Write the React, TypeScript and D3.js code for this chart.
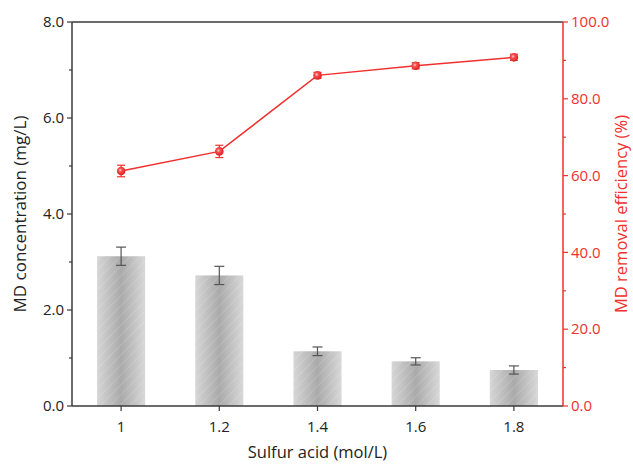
import React from "react";
import * as d3 from "d3";

const categories = [1, 1.2, 1.4, 1.6, 1.8];
const xTickLabels = ["1", "1.2", "1.4", "1.6", "1.8"];
const concentration = [3.12, 2.72, 1.14, 0.93, 0.75];
const concentrationErr = [0.19, 0.19, 0.09, 0.075, 0.085];
const efficiency = [61.2, 66.3, 86.1, 88.6, 90.8];
const efficiencyErr = [1.5, 1.6, 0.8, 0.8, 0.8];
const leftTicks = [0, 2, 4, 6, 8];
const rightTicks = [0, 20, 40, 60, 80, 100];

const W = 633;
const H = 465;
const M = { left: 72, right: 70, top: 22, bottom: 59 };
const RED = "#f0302c";
const AXIS = "#3a3a3a";
const FONT = "'Open Sans', 'Noto Sans', sans-serif";

export default function App() {
  const x = d3.scaleLinear().domain([0.9, 1.9]).range([M.left, W - M.right]);
  const yL = d3.scaleLinear().domain([0, 8]).range([H - M.bottom, M.top]);
  const yR = d3.scaleLinear().domain([0, 100]).range([H - M.bottom, M.top]);
  const barW = x(1.098) - x(1);
  const line = d3
    .line<number>()
    .x((_, i) => x(categories[i]))
    .y((d) => yR(d));
  const x0 = M.left;
  const x1 = W - M.right;
  const y0 = H - M.bottom;
  const y1 = M.top;
  const minorL = d3.range(1, 8, 2);
  const minorR = d3.range(10, 100, 20);

  return (
    <svg width={W} height={H} style={{ position: "absolute", left: 0, top: 0, background: "#fff" }}>
      <defs>
        <linearGradient id="barGrad" x1="0" x2="1" y1="0" y2="0">
          <stop offset="0" stopColor="#d6d6d6" />
          <stop offset="0.5" stopColor="#aaaaaa" />
          <stop offset="1" stopColor="#d8d8d8" />
        </linearGradient>
        <pattern id="hatch" width="7" height="7" patternUnits="userSpaceOnUse" patternTransform="rotate(45)">
          <line x1="0" y1="0" x2="0" y2="7" stroke="#ffffff" strokeOpacity="0.22" strokeWidth="1.2" />
        </pattern>
        <radialGradient id="ball" cx="0.4" cy="0.4" r="0.6">
          <stop offset="0" stopColor="#ffd0d0" />
          <stop offset="0.35" stopColor="#f55050" />
          <stop offset="1" stopColor="#e02020" />
        </radialGradient>
      </defs>

      {/* bars */}
      {concentration.map((v, i) => {
        const cx = x(categories[i]);
        return (
          <g key={"b" + i}>
            <rect x={cx - barW / 2} y={yL(v)} width={barW} height={y0 - yL(v)} fill="url(#barGrad)" />
            <rect x={cx - barW / 2} y={yL(v)} width={barW} height={y0 - yL(v)} fill="url(#hatch)" />
            <line x1={cx} x2={cx} y1={yL(v + concentrationErr[i])} y2={yL(v - concentrationErr[i])} stroke="#555" strokeWidth={1.2} />
            <line x1={cx - 5} x2={cx + 5} y1={yL(v + concentrationErr[i])} y2={yL(v + concentrationErr[i])} stroke="#555" strokeWidth={1.2} />
            <line x1={cx - 5} x2={cx + 5} y1={yL(v - concentrationErr[i])} y2={yL(v - concentrationErr[i])} stroke="#555" strokeWidth={1.2} />
          </g>
        );
      })}

      {/* line */}
      <path d={line(efficiency) || ""} fill="none" stroke={RED} strokeWidth={1.5} />
      {efficiency.map((v, i) => {
        const cx = x(categories[i]);
        const e = efficiencyErr[i];
        return (
          <g key={"p" + i}>
            <line x1={cx} x2={cx} y1={yR(v + e)} y2={yR(v - e)} stroke={RED} strokeWidth={1.2} />
            <line x1={cx - 4} x2={cx + 4} y1={yR(v + e)} y2={yR(v + e)} stroke={RED} strokeWidth={1.2} />
            <line x1={cx - 4} x2={cx + 4} y1={yR(v - e)} y2={yR(v - e)} stroke={RED} strokeWidth={1.2} />
            <circle cx={cx} cy={yR(v)} r={4.3} fill="url(#ball)" />
          </g>
        );
      })}

      {/* frame */}
      <line x1={x0} x2={x1} y1={y1} y2={y1} stroke={AXIS} strokeWidth={1.5} />
      <line x1={x0} x2={x1} y1={y0} y2={y0} stroke={AXIS} strokeWidth={1.5} />
      <line x1={x0} x2={x0} y1={y1} y2={y0} stroke={AXIS} strokeWidth={1.5} />
      <line x1={x1} x2={x1} y1={y1} y2={y0} stroke={RED} strokeWidth={1.5} />

      {/* left axis */}
      {leftTicks.map((t) => (
        <g key={"l" + t}>
          <line x1={x0 - 5} x2={x0} y1={yL(t)} y2={yL(t)} stroke={AXIS} strokeWidth={1.2} />
          <text x={x0 - 8} y={yL(t)} dy="0.35em" textAnchor="end" fontSize={15} fontFamily={FONT} fill="#222">
            {t.toFixed(1)}
          </text>
        </g>
      ))}
      {minorL.map((t) => (
        <line key={"lm" + t} x1={x0 - 3} x2={x0} y1={yL(t)} y2={yL(t)} stroke={AXIS} strokeWidth={1.2} />
      ))}
      <text
        transform={`translate(26,${(y0 + y1) / 2}) rotate(-90)`}
        textAnchor="middle"
        fontSize={17}
        fontFamily={FONT}
        fill="#222"
      >
        MD concentration (mg/L)
      </text>

      {/* right axis */}
      {rightTicks.map((t) => (
        <g key={"r" + t}>
          <line x1={x1} x2={x1 + 5} y1={yR(t)} y2={yR(t)} stroke={RED} strokeWidth={1.2} />
          <text x={x1 + 8} y={yR(t)} dy="0.35em" textAnchor="start" fontSize={15} fontFamily={FONT} fill={RED}>
            {t.toFixed(1)}
          </text>
        </g>
      ))}
      {minorR.map((t) => (
        <line key={"rm" + t} x1={x1} x2={x1 + 3} y1={yR(t)} y2={yR(t)} stroke={RED} strokeWidth={1.2} />
      ))}
      <text
        transform={`translate(627,${(y0 + y1) / 2}) rotate(-90)`}
        textAnchor="middle"
        fontSize={16.5}
        fontFamily={FONT}
        fill={RED}
      >
        MD removal efficiency (%)
      </text>

      {/* x axis */}
      {categories.map((c, i) => (
        <g key={"x" + i}>
          <line x1={x(c)} x2={x(c)} y1={y0} y2={y0 + 5} stroke={AXIS} strokeWidth={1.2} />
          <text x={x(c)} y={y0 + 21} textAnchor="middle" dy="0.35em" fontSize={15} fontFamily={FONT} fill="#222">
            {xTickLabels[i]}
          </text>
        </g>
      ))}
      <text x={(x0 + x1) / 2} y={452} textAnchor="middle" dy="0.35em" fontSize={16.5} fontFamily={FONT} fill="#222">
        Sulfur acid (mol/L)
      </text>
    </svg>
  );
}
